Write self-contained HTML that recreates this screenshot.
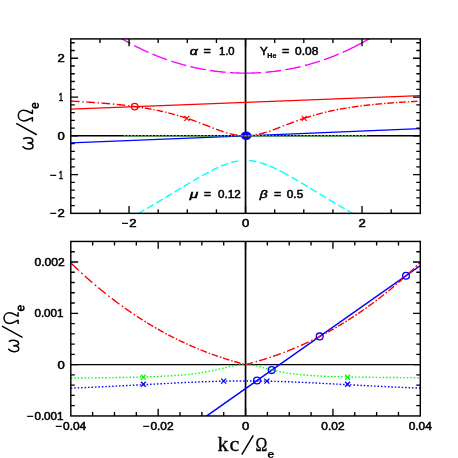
<!DOCTYPE html><html><head><meta charset="utf-8"><title>Dispersion relation</title><style>html,body{margin:0;padding:0;background:#fff}svg{display:block;will-change:transform}</style></head><body><svg width="458" height="458" viewBox="0 0 458 458">
<rect width="458" height="458" fill="#fff"/>
<defs><clipPath id="ct"><rect x="70.80" y="38.90" width="349.50" height="174.45"/></clipPath>
<clipPath id="cb"><rect x="70.80" y="241.45" width="349.50" height="174.50"/></clipPath></defs>
<g clip-path="url(#ct)" fill="none">
<path d="M245.55,73.13 L243.88,73.13 L242.20,73.11 L240.53,73.08 L238.85,73.04 L237.18,72.98 L235.50,72.92 L233.83,72.84 L232.15,72.75 L230.48,72.65 L228.80,72.53 L227.13,72.41 L225.45,72.27 L223.78,72.12 L222.10,71.96 L220.43,71.79 L218.76,71.60 L217.08,71.40 L215.41,71.19 L213.73,70.97 L212.06,70.74 L210.38,70.49 L208.71,70.23 L207.03,69.96 L205.36,69.68 L203.68,69.38 L202.01,69.07 L200.33,68.75 L198.66,68.42 L196.98,68.07 L195.31,67.71 L193.63,67.34 L191.96,66.96 L190.29,66.56 L188.61,66.16 L186.94,65.73 L185.26,65.30 L183.59,64.85 L181.91,64.39 L180.24,63.92 L178.56,63.43 L176.89,62.93 L175.21,62.42 L173.54,61.89 L171.86,61.35 L170.19,60.80 L168.51,60.23 L166.84,59.65 L165.17,59.06 L163.49,58.45 L161.82,57.83 L160.14,57.19 L158.47,56.54 L156.79,55.88 L155.12,55.20 L153.44,54.51 L151.77,53.81 L150.09,53.09 L148.42,52.35 L146.74,51.60 L145.07,50.84 L143.39,50.06 L141.72,49.27 L140.04,48.46 L138.37,47.64 L136.70,46.80 L135.02,45.95 L133.35,45.08 L131.67,44.20 L130.00,43.30 L128.32,42.38 L126.65,41.45 L124.97,40.50 L123.30,39.54 L121.62,38.56 L119.95,37.57 L118.27,36.56 L116.60,35.53 L114.92,34.49 L113.25,33.43 L111.58,32.35" stroke="#ff00ff" stroke-width="1.40" stroke-dasharray="15.60 4.40" stroke-dashoffset="0.00" stroke-linecap="butt"/>
<path d="M245.55,73.13 L247.22,73.13 L248.90,73.11 L250.57,73.08 L252.25,73.04 L253.92,72.98 L255.60,72.92 L257.27,72.84 L258.95,72.75 L260.62,72.65 L262.30,72.53 L263.97,72.41 L265.65,72.27 L267.32,72.12 L269.00,71.96 L270.67,71.79 L272.35,71.60 L274.02,71.40 L275.69,71.19 L277.37,70.97 L279.04,70.74 L280.72,70.49 L282.39,70.23 L284.07,69.96 L285.74,69.68 L287.42,69.38 L289.09,69.07 L290.77,68.75 L292.44,68.42 L294.12,68.07 L295.79,67.71 L297.47,67.34 L299.14,66.96 L300.81,66.56 L302.49,66.16 L304.16,65.73 L305.84,65.30 L307.51,64.85 L309.19,64.39 L310.86,63.92 L312.54,63.43 L314.21,62.93 L315.89,62.42 L317.56,61.89 L319.24,61.35 L320.91,60.80 L322.59,60.23 L324.26,59.65 L325.94,59.06 L327.61,58.45 L329.28,57.83 L330.96,57.19 L332.63,56.54 L334.31,55.88 L335.98,55.20 L337.66,54.51 L339.33,53.81 L341.01,53.09 L342.68,52.35 L344.36,51.60 L346.03,50.84 L347.71,50.06 L349.38,49.27 L351.06,48.46 L352.73,47.64 L354.40,46.80 L356.08,45.95 L357.75,45.08 L359.43,44.20 L361.10,43.30 L362.78,42.38 L364.45,41.45 L366.13,40.50 L367.80,39.54 L369.48,38.56 L371.15,37.57 L372.83,36.56 L374.50,35.53 L376.18,34.49 L377.85,33.43 L379.52,32.35" stroke="#ff00ff" stroke-width="1.40" stroke-dasharray="15.60 4.40 15.60 4.40 15.60 4.40 15.60 4.40 15.60 4.40 80.00 0.00" stroke-dashoffset="0.00" stroke-linecap="butt"/>
<path d="M238.50,160.91 L237.13,161.14 L235.76,161.40 L234.40,161.69 L233.03,162.03 L231.66,162.39 L230.29,162.79 L228.92,163.21 L227.56,163.67 L226.19,164.15 L224.82,164.66 L223.45,165.19 L222.08,165.75 L220.71,166.33 L219.35,166.92 L217.98,167.54 L216.61,168.18 L215.24,168.83 L213.87,169.49 L212.51,170.17 L211.14,170.87 L209.77,171.58 L208.40,172.29 L207.03,173.02 L205.66,173.76 L204.30,174.51 L202.93,175.27 L201.56,176.03 L200.19,176.80 L198.82,177.58 L197.46,178.37 L196.09,179.16 L194.72,179.95 L193.35,180.75 L191.98,181.56 L190.62,182.37 L189.25,183.18 L187.88,183.99 L186.51,184.81 L185.14,185.63 L183.78,186.45 L182.41,187.28 L181.04,188.10 L179.67,188.93 L178.30,189.75 L176.93,190.58 L175.57,191.41 L174.20,192.24 L172.83,193.07 L171.46,193.90 L170.09,194.73 L168.73,195.55 L167.36,196.38 L165.99,197.21 L164.62,198.03 L163.25,198.85 L161.88,199.68 L160.52,200.50 L159.15,201.32 L157.78,202.13 L156.41,202.95 L155.04,203.76 L153.68,204.57 L152.31,205.38 L150.94,206.18 L149.57,206.99 L148.20,207.79 L146.84,208.58 L145.47,209.38 L144.10,210.17 L142.73,210.95 L141.36,211.74 L140.00,212.52 L138.63,213.29 L137.26,214.07 L135.89,214.83 L134.52,215.60 L133.15,216.36 L131.79,217.11 L130.42,217.86 L129.05,218.61" stroke="#00ffff" stroke-width="1.40" stroke-dasharray="7.40 3.27" stroke-dashoffset="0.00" stroke-linecap="butt"/>
<path d="M249.00,160.51 L250.41,160.63 L251.83,160.80 L253.24,161.01 L254.65,161.26 L256.07,161.55 L257.48,161.88 L258.89,162.24 L260.31,162.64 L261.72,163.07 L263.13,163.53 L264.54,164.02 L265.96,164.54 L267.37,165.08 L268.78,165.65 L270.20,166.25 L271.61,166.86 L273.02,167.50 L274.44,168.15 L275.85,168.82 L277.26,169.51 L278.68,170.22 L280.09,170.93 L281.50,171.66 L282.92,172.41 L284.33,173.16 L285.74,173.93 L287.15,174.70 L288.57,175.49 L289.98,176.28 L291.39,177.08 L292.81,177.89 L294.22,178.70 L295.63,179.52 L297.05,180.34 L298.46,181.17 L299.87,182.00 L301.29,182.84 L302.70,183.68 L304.11,184.52 L305.52,185.37 L306.94,186.22 L308.35,187.07 L309.76,187.92 L311.18,188.77 L312.59,189.63 L314.00,190.48 L315.42,191.34 L316.83,192.20 L318.24,193.05 L319.66,193.91 L321.07,194.76 L322.48,195.62 L323.90,196.47 L325.31,197.33 L326.72,198.18 L328.13,199.03 L329.55,199.88 L330.96,200.72 L332.37,201.57 L333.79,202.41 L335.20,203.25 L336.61,204.09 L338.03,204.93 L339.44,205.76 L340.85,206.59 L342.27,207.42 L343.68,208.24 L345.09,209.06 L346.51,209.88 L347.92,210.70 L349.33,211.51 L350.75,212.31 L352.16,213.12 L353.57,213.91 L354.98,214.71 L356.40,215.50 L357.81,216.28 L359.22,217.06 L360.64,217.84 L362.05,218.61" stroke="#00ffff" stroke-width="1.40" stroke-dasharray="7.50 3.35 7.50 3.35 7.50 3.35 10.20 3.35 7.50 3.35 7.50 3.35 7.50 3.35 7.50 3.35 7.50 3.35 7.50 3.35 7.50 3.35 7.50 3.35 7.50 3.35 7.50 3.35 7.50 3.35 7.50 3.35" stroke-dashoffset="0.00" stroke-linecap="butt"/>
<path d="M70.80,135.82 H420.30" stroke="#000" stroke-width="1.4"/>
<path d="M245.55,38.90 V213.35" stroke="#000" stroke-width="1.7"/>
<path d="M70.80,142.97 L245.55,135.82 L420.30,128.66" stroke="#0000ff" stroke-width="1.3"/>
<ellipse cx="246.15" cy="135.82" rx="5.3" ry="4.2" fill="#0000ff"/>
<path d="M70.80,109.08 L245.55,102.38 L420.30,95.68" stroke="#ff0000" stroke-width="1.3"/>
<path d="M71.10,101.18 L72.05,101.23 L72.99,101.27 L73.94,101.32 L74.88,101.37 L75.83,101.42 L76.77,101.47 L77.72,101.52 L78.67,101.57 L79.61,101.63 M82.41,101.78 L83.81,101.87 M86.30,102.02 L87.25,102.08 L88.19,102.14 L89.14,102.20 L90.08,102.26 L91.03,102.32 L91.97,102.38 L92.92,102.45 L93.87,102.51 L94.81,102.58 M97.61,102.78 L99.01,102.88 M101.50,103.07 L102.45,103.15 L103.39,103.22 L104.34,103.30 L105.28,103.38 L106.23,103.46 L107.17,103.54 L108.12,103.62 L109.07,103.70 L110.01,103.79 M112.81,104.04 L114.21,104.18 M116.70,104.42 L117.65,104.52 L118.59,104.62 L119.54,104.71 L120.48,104.82 L121.43,104.92 L122.37,105.02 L123.32,105.13 L124.27,105.23 L125.21,105.34 M128.01,105.68 L129.41,105.85 M131.90,106.17 L132.60,106.26 L133.30,106.35 L134.00,106.45 M133.20,106.34 L134.14,106.46 L135.07,106.59 L136.01,106.72 L136.94,106.86 L137.88,106.99 L138.82,107.13 L139.75,107.27 M141.74,107.57 L143.14,107.79 M144.90,108.08 L145.84,108.23 L146.77,108.39 L147.71,108.55 L148.64,108.71 L149.58,108.88 L150.52,109.05 L151.45,109.22 M153.44,109.59 L154.84,109.87 M156.60,110.22 L157.54,110.41 L158.47,110.60 L159.41,110.80 L160.34,111.00 L161.28,111.21 L162.22,111.42 L163.15,111.63 M165.14,112.09 L166.54,112.42 M168.30,112.86 L169.24,113.09 L170.17,113.33 L171.11,113.57 L172.04,113.82 L172.98,114.07 L173.92,114.32 L174.85,114.58 M176.84,115.14 L178.24,115.55 M180.00,116.07 L180.94,116.36 L181.87,116.65 L182.81,116.94 L183.74,117.24 L184.68,117.54 L185.62,117.84 L186.55,118.15 M188.90,118.94 L189.85,119.27 L190.80,119.60 L191.76,119.93 L192.71,120.27 L193.66,120.61 L194.61,120.96 L195.56,121.30 L196.52,121.66 M198.94,122.56 L200.34,123.10 M202.50,123.92 L203.45,124.29 L204.40,124.66 L205.36,125.03 L206.31,125.41 L207.26,125.78 L208.21,126.15 L209.16,126.52 L210.12,126.89 M212.54,127.84 L213.94,128.38 M216.10,129.19 L217.05,129.55 L218.00,129.90 L218.96,130.24 L219.91,130.58 L220.86,130.92 L221.81,131.24 L222.76,131.56 L223.72,131.88 M226.14,132.64 L227.54,133.05 M229.70,133.64 L230.65,133.88 L231.60,134.11 L232.56,134.33 L233.51,134.53 L234.46,134.72 L235.41,134.90 L236.36,135.06 L237.32,135.20 M239.74,135.51 L241.14,135.64 M243.30,135.77 L244.03,135.80 L244.77,135.81 L245.50,135.82 " stroke="#ff0000" stroke-width="1.40" fill="none"/>
<path d="M245.50,135.82 L246.45,135.81 L247.40,135.79 L248.36,135.74 L249.31,135.69 L250.26,135.61 L251.21,135.52 L252.16,135.42 L253.12,135.30 M255.54,134.92 L256.94,134.66 M259.10,134.20 L260.05,133.98 L261.00,133.74 L261.96,133.49 L262.91,133.23 L263.86,132.96 L264.81,132.68 L265.76,132.39 L266.72,132.09 M269.14,131.29 L270.54,130.81 M272.70,130.04 L273.65,129.69 L274.60,129.34 L275.56,128.98 L276.51,128.62 L277.46,128.26 L278.41,127.89 L279.36,127.52 L280.32,127.16 M282.74,126.21 L284.14,125.66 M286.30,124.82 L287.25,124.45 L288.20,124.08 L289.16,123.71 L290.11,123.34 L291.06,122.98 L292.01,122.62 L292.96,122.26 L293.92,121.90 M296.34,121.01 L297.74,120.50 M299.90,119.73 L300.82,119.41 L301.75,119.09 L302.68,118.78 L303.60,118.46 M304.30,118.23 L305.25,117.92 L306.20,117.61 L307.14,117.30 L308.09,117.00 L309.04,116.71 L309.99,116.41 L310.94,116.12 M312.96,115.52 L314.36,115.11 M316.15,114.61 L317.10,114.35 L318.05,114.09 L318.99,113.84 L319.94,113.59 L320.89,113.34 L321.84,113.10 L322.79,112.86 M324.81,112.36 L326.21,112.03 M328.00,111.62 L328.95,111.40 L329.90,111.19 L330.84,110.98 L331.79,110.78 L332.74,110.58 L333.69,110.38 L334.64,110.19 M336.66,109.79 L338.06,109.52 M339.85,109.18 L340.80,109.01 L341.75,108.84 L342.69,108.67 L343.64,108.51 L344.59,108.34 L345.54,108.18 L346.49,108.03 M348.51,107.70 L349.91,107.48 M351.70,107.21 L352.65,107.07 L353.60,106.94 L354.54,106.80 L355.49,106.67 L356.44,106.54 L357.39,106.41 L358.34,106.28 M360.36,106.02 L361.76,105.84 M363.55,105.62 L364.50,105.51 L365.45,105.39 L366.39,105.28 L367.34,105.18 L368.29,105.07 L369.24,104.96 L370.19,104.86 M372.21,104.65 L373.61,104.50 M375.40,104.32 L376.35,104.23 L377.30,104.14 L378.24,104.05 L379.19,103.96 L380.14,103.87 L381.09,103.79 L382.04,103.70 M384.06,103.53 L385.46,103.41 M387.25,103.26 L388.20,103.19 L389.15,103.11 L390.09,103.04 L391.04,102.96 L391.99,102.89 L392.94,102.82 L393.89,102.75 M395.91,102.60 L397.31,102.51 M399.10,102.38 L400.05,102.32 L401.00,102.26 L401.94,102.20 L402.89,102.14 L403.84,102.08 L404.79,102.02 L405.74,101.96 M407.76,101.84 L409.16,101.76 M410.95,101.66 L411.90,101.60 L412.85,101.55 L413.79,101.50 L414.74,101.45 L415.69,101.40 L416.64,101.35 L417.59,101.30 " stroke="#ff0000" stroke-width="1.40" fill="none"/>
<path d="M123.90,135.82 H366.90" stroke="#00ff00" stroke-width="1.4" stroke-dasharray="1.5 1.95"/>
<circle cx="134.70" cy="106.60" r="3.30" stroke="#ff0000" stroke-width="1.3" fill="none"/>
<path d="M184.40,115.90 l5.00,5.00 M184.40,120.90 l5.00,-5.00" stroke="#ff0000" stroke-width="1.3" fill="none"/>
<path d="M301.70,115.90 l5.00,5.00 M301.70,120.90 l5.00,-5.00" stroke="#ff0000" stroke-width="1.3" fill="none"/>
</g>
<rect x="70.80" y="38.90" width="349.50" height="174.45" fill="none" stroke="#000" stroke-width="1.45"/>
<path d="M99.93,38.90 v4.00 M99.93,213.35 v-4.00 M129.05,38.90 v7.30 M129.05,213.35 v-7.30 M158.18,38.90 v4.00 M158.18,213.35 v-4.00 M187.30,38.90 v4.00 M187.30,213.35 v-4.00 M216.43,38.90 v4.00 M216.43,213.35 v-4.00 M245.55,38.90 v7.30 M245.55,213.35 v-7.30 M274.68,38.90 v4.00 M274.68,213.35 v-4.00 M303.80,38.90 v4.00 M303.80,213.35 v-4.00 M332.93,38.90 v4.00 M332.93,213.35 v-4.00 M362.05,38.90 v7.30 M362.05,213.35 v-7.30 M391.18,38.90 v4.00 M391.18,213.35 v-4.00 " stroke="#000" stroke-width="1.35" fill="none"/>
<path d="M70.80,205.60 h4.00 M420.30,205.60 h-4.00 M70.80,197.84 h4.00 M420.30,197.84 h-4.00 M70.80,190.09 h4.00 M420.30,190.09 h-4.00 M70.80,182.34 h4.00 M420.30,182.34 h-4.00 M70.80,174.58 h7.30 M420.30,174.58 h-7.30 M70.80,166.83 h4.00 M420.30,166.83 h-4.00 M70.80,159.08 h4.00 M420.30,159.08 h-4.00 M70.80,151.32 h4.00 M420.30,151.32 h-4.00 M70.80,143.57 h4.00 M420.30,143.57 h-4.00 M70.80,135.82 h7.30 M420.30,135.82 h-7.30 M70.80,128.06 h4.00 M420.30,128.06 h-4.00 M70.80,120.31 h4.00 M420.30,120.31 h-4.00 M70.80,112.56 h4.00 M420.30,112.56 h-4.00 M70.80,104.80 h4.00 M420.30,104.80 h-4.00 M70.80,97.05 h7.30 M420.30,97.05 h-7.30 M70.80,89.30 h4.00 M420.30,89.30 h-4.00 M70.80,81.54 h4.00 M420.30,81.54 h-4.00 M70.80,73.79 h4.00 M420.30,73.79 h-4.00 M70.80,66.04 h4.00 M420.30,66.04 h-4.00 M70.80,58.28 h7.30 M420.30,58.28 h-7.30 M70.80,50.53 h4.00 M420.30,50.53 h-4.00 M70.80,42.78 h4.00 M420.30,42.78 h-4.00 " stroke="#000" stroke-width="1.35" fill="none"/>
<g clip-path="url(#cb)" fill="none">
<path d="M70.80,364.63 H420.30" stroke="#000" stroke-width="1.4"/>
<path d="M245.55,241.45 V415.95" stroke="#000" stroke-width="1.7"/>
<path d="M200.00,420.65 L425.00,262.34" stroke="#0000ff" stroke-width="1.5"/>
<path d="M70.80,378.04 L72.55,378.03 L74.30,378.01 L76.04,378.00 L77.79,377.99 L79.54,377.97 L81.28,377.96 L83.03,377.94 L84.78,377.93 L86.53,377.91 L88.28,377.90 L90.02,377.88 L91.77,377.87 L93.52,377.85 L95.27,377.83 L97.01,377.81 L98.76,377.79 L100.51,377.77 L102.25,377.75 L104.00,377.73 L105.75,377.71 L107.50,377.68 L109.25,377.66 L110.99,377.64 L112.74,377.61 L114.49,377.58 L116.24,377.56 L117.98,377.53 L119.73,377.50 L121.48,377.47 L123.23,377.44 L124.97,377.41 L126.72,377.37 L128.47,377.34 L130.22,377.30 L131.96,377.26 L133.71,377.22 L135.46,377.18 L137.20,377.14 L138.95,377.09 L140.70,377.04 L142.45,377.00 L144.19,376.94 L145.94,376.89 L147.69,376.84 L149.44,376.78 L151.19,376.72 L152.93,376.65 L154.68,376.59 L156.43,376.52 L158.18,376.44 L159.92,376.37 L161.67,376.28 L163.42,376.20 L165.17,376.11 L166.91,376.02 L168.66,375.92 L170.41,375.82 L172.16,375.71 L173.90,375.59 L175.65,375.47 L177.40,375.35 L179.15,375.21 L180.89,375.07 L182.64,374.92 L184.39,374.77 L186.13,374.60 L187.88,374.42 L189.63,374.24 L191.38,374.04 L193.13,373.84 L194.87,373.62 L196.62,373.39 L198.37,373.15 L200.12,372.89 L201.86,372.62 L203.61,372.34 L205.36,372.04 L207.11,371.73 L208.85,371.40 L210.60,371.06 L212.35,370.70 L214.10,370.33 L215.84,369.94 L217.59,369.54 L219.34,369.14 L221.09,368.72 L222.83,368.30 L224.58,367.88 L226.33,367.46 L228.08,367.04 L229.82,366.64 L231.57,366.26 L233.32,365.90 L235.07,365.57 L236.81,365.27 L238.56,365.03 L240.31,364.83 L242.06,364.68 L243.80,364.59 L245.55,364.56 L247.30,364.60 L249.05,364.72 L250.79,364.91 L252.54,365.16 L254.29,365.48 L256.04,365.85 L257.78,366.26 L259.53,366.69 L261.28,367.15 L263.03,367.63 L264.77,368.10 L266.52,368.58 L268.27,369.04 L270.01,369.50 L271.76,369.94 L273.51,370.37 L275.26,370.77 L277.00,371.16 L278.75,371.53 L280.50,371.87 L282.25,372.20 L284.00,372.51 L285.74,372.80 L287.49,373.08 L289.24,373.33 L290.99,373.58 L292.73,373.80 L294.48,374.02 L296.23,374.21 L297.98,374.40 L299.72,374.58 L301.47,374.74 L303.22,374.90 L304.97,375.04 L306.71,375.18 L308.46,375.31 L310.21,375.43 L311.96,375.55 L313.70,375.65 L315.45,375.76 L317.20,375.85 L318.94,375.94 L320.69,376.03 L322.44,376.11 L324.19,376.19 L325.94,376.26 L327.68,376.33 L329.43,376.40 L331.18,376.46 L332.93,376.52 L334.67,376.57 L336.42,376.63 L338.17,376.68 L339.92,376.73 L341.66,376.77 L343.41,376.82 L345.16,376.86 L346.91,376.90 L348.65,376.94 L350.40,376.98 L352.15,377.01 L353.90,377.04 L355.64,377.08 L357.39,377.11 L359.14,377.14 L360.88,377.17 L362.63,377.19 L364.38,377.22 L366.13,377.25 L367.88,377.27 L369.62,377.29 L371.37,377.32 L373.12,377.34 L374.87,377.36 L376.61,377.38 L378.36,377.40 L380.11,377.42 L381.86,377.43 L383.60,377.45 L385.35,377.47 L387.10,377.48 L388.85,377.50 L390.59,377.51 L392.34,377.53 L394.09,377.54 L395.84,377.56 L397.58,377.57 L399.33,377.58 L401.08,377.60 L402.83,377.61 L404.57,377.62 L406.32,377.63 L408.07,377.64 L409.82,377.65 L411.56,377.66 L413.31,377.67 L415.06,377.68 L416.80,377.69 L418.55,377.70 L420.30,377.71" stroke="#00ff00" stroke-width="1.4" stroke-dasharray="1.5 1.95"/>
<path d="M70.80,388.12 L72.55,388.05 L74.30,387.98 L76.04,387.91 L77.79,387.84 L79.54,387.77 L81.28,387.70 L83.03,387.63 L84.78,387.55 L86.53,387.48 L88.28,387.40 L90.02,387.32 L91.77,387.25 L93.52,387.17 L95.27,387.09 L97.01,387.01 L98.76,386.93 L100.51,386.85 L102.25,386.77 L104.00,386.69 L105.75,386.60 L107.50,386.52 L109.25,386.44 L110.99,386.35 L112.74,386.27 L114.49,386.18 L116.24,386.09 L117.98,386.01 L119.73,385.92 L121.48,385.83 L123.23,385.74 L124.97,385.65 L126.72,385.56 L128.47,385.47 L130.22,385.38 L131.96,385.29 L133.71,385.20 L135.46,385.10 L137.20,385.01 L138.95,384.92 L140.70,384.83 L142.45,384.73 L144.19,384.64 L145.94,384.55 L147.69,384.45 L149.44,384.36 L151.19,384.27 L152.93,384.17 L154.68,384.08 L156.43,383.99 L158.18,383.90 L159.92,383.80 L161.67,383.71 L163.42,383.62 L165.17,383.53 L166.91,383.44 L168.66,383.35 L170.41,383.26 L172.16,383.17 L173.90,383.08 L175.65,382.99 L177.40,382.90 L179.15,382.82 L180.89,382.73 L182.64,382.65 L184.39,382.57 L186.13,382.49 L187.88,382.41 L189.63,382.33 L191.38,382.25 L193.13,382.17 L194.87,382.10 L196.62,382.03 L198.37,381.96 L200.12,381.89 L201.86,381.82 L203.61,381.76 L205.36,381.69 L207.11,381.63 L208.85,381.58 L210.60,381.52 L212.35,381.46 L214.10,381.41 L215.84,381.36 L217.59,381.32 L219.34,381.27 L221.09,381.23 L222.83,381.19 L224.58,381.16 L226.33,381.12 L228.08,381.09 L229.82,381.06 L231.57,381.04 L233.32,381.02 L235.07,381.00 L236.81,380.98 L238.56,380.97 L240.31,380.96 L242.06,380.95 L243.80,380.94 L245.55,380.94 L247.30,380.94 L249.05,380.95 L250.79,380.96 L252.54,380.97 L254.29,380.98 L256.04,381.00 L257.78,381.02 L259.53,381.04 L261.28,381.06 L263.03,381.09 L264.77,381.12 L266.52,381.16 L268.27,381.19 L270.01,381.23 L271.76,381.27 L273.51,381.32 L275.26,381.36 L277.00,381.41 L278.75,381.46 L280.50,381.52 L282.25,381.58 L284.00,381.63 L285.74,381.69 L287.49,381.76 L289.24,381.82 L290.99,381.89 L292.73,381.96 L294.48,382.03 L296.23,382.10 L297.98,382.17 L299.72,382.25 L301.47,382.33 L303.22,382.41 L304.97,382.49 L306.71,382.57 L308.46,382.65 L310.21,382.73 L311.96,382.82 L313.70,382.90 L315.45,382.99 L317.20,383.08 L318.94,383.17 L320.69,383.26 L322.44,383.35 L324.19,383.44 L325.94,383.53 L327.68,383.62 L329.43,383.71 L331.18,383.80 L332.93,383.90 L334.67,383.99 L336.42,384.08 L338.17,384.17 L339.92,384.27 L341.66,384.36 L343.41,384.45 L345.16,384.55 L346.91,384.64 L348.65,384.73 L350.40,384.83 L352.15,384.92 L353.90,385.01 L355.64,385.10 L357.39,385.20 L359.14,385.29 L360.88,385.38 L362.63,385.47 L364.38,385.56 L366.13,385.65 L367.88,385.74 L369.62,385.83 L371.37,385.92 L373.12,386.01 L374.87,386.09 L376.61,386.18 L378.36,386.27 L380.11,386.35 L381.86,386.44 L383.60,386.52 L385.35,386.60 L387.10,386.69 L388.85,386.77 L390.59,386.85 L392.34,386.93 L394.09,387.01 L395.84,387.09 L397.58,387.17 L399.33,387.25 L401.08,387.32 L402.83,387.40 L404.57,387.48 L406.32,387.55 L408.07,387.63 L409.82,387.70 L411.56,387.77 L413.31,387.84 L415.06,387.91 L416.80,387.98 L418.55,388.05 L420.30,388.12" stroke="#0000ff" stroke-width="1.4" stroke-dasharray="1.5 1.95"/>
<path d="M71.30,263.37 L72.25,264.28 L73.19,265.19 L74.13,266.09 L75.08,266.99 L76.03,267.88 L76.97,268.77 L77.91,269.65 L78.86,270.53 M81.27,272.75 L82.67,274.03 M84.80,275.96 L85.75,276.80 L86.69,277.65 L87.63,278.49 L88.58,279.32 L89.53,280.15 L90.47,280.97 L91.41,281.79 L92.36,282.61 M94.77,284.67 L96.17,285.85 M98.30,287.64 L99.25,288.43 L100.19,289.21 L101.13,289.98 L102.08,290.76 L103.03,291.52 L103.97,292.29 L104.91,293.05 L105.86,293.80 M108.27,295.71 L109.67,296.80 M111.80,298.46 L112.75,299.18 L113.69,299.90 L114.63,300.62 L115.58,301.33 L116.53,302.04 L117.47,302.74 L118.41,303.44 L119.36,304.14 M121.77,305.89 L123.17,306.90 M124.80,308.07 L125.77,308.75 L126.74,309.44 L127.70,310.11 L128.67,310.78 L129.64,311.45 L130.61,312.12 L131.58,312.78 M133.66,314.19 L135.06,315.12 M136.90,316.34 L137.88,316.97 L138.85,317.61 L139.83,318.24 L140.80,318.87 L141.78,319.49 L142.75,320.11 M144.46,321.17 L145.86,322.04 M147.35,322.96 L148.33,323.56 L149.30,324.15 L150.28,324.74 L151.25,325.32 L152.23,325.90 L153.20,326.47 M154.91,327.47 L156.31,328.28 M157.80,329.13 L158.78,329.68 L159.75,330.23 L160.73,330.78 L161.70,331.32 L162.68,331.86 L163.65,332.39 M165.36,333.31 L166.76,334.06 M168.25,334.85 L169.23,335.36 L170.20,335.87 L171.18,336.37 L172.15,336.87 L173.13,337.37 L174.10,337.86 M175.81,338.72 L177.21,339.41 M178.70,340.14 L179.68,340.61 L180.65,341.08 L181.63,341.54 L182.60,342.00 L183.58,342.46 L184.55,342.91 M186.26,343.70 L187.66,344.33 M189.15,345.00 L189.18,345.01 L189.20,345.02 M189.40,345.11 L190.30,345.51 L191.19,345.90 L192.09,346.30 L192.98,346.68 L193.88,347.07 L194.78,347.45 L195.67,347.83 M197.55,348.62 L198.95,349.19 M200.60,349.86 L201.50,350.22 L202.39,350.58 L203.29,350.94 L204.18,351.29 L205.08,351.64 L205.98,351.98 L206.87,352.33 M208.75,353.04 L210.15,353.56 M211.80,354.16 L212.70,354.49 L213.59,354.81 L214.49,355.13 L215.38,355.45 L216.28,355.76 L217.18,356.07 L218.07,356.38 M219.95,357.02 L221.35,357.49 M223.00,358.03 L223.90,358.32 L224.79,358.61 L225.69,358.90 L226.58,359.18 L227.48,359.46 L228.38,359.74 L229.27,360.01 M231.15,360.58 L232.55,360.99 M234.20,361.48 L235.10,361.74 L235.99,361.99 L236.89,362.24 L237.78,362.49 L238.68,362.74 L239.58,362.99 L240.47,363.23 M242.35,363.73 L243.75,364.10 M245.40,364.52 L245.45,364.53 L245.50,364.55 " stroke="#ff0000" stroke-width="1.40" fill="none"/>
<path d="M245.30,364.50 L246.27,364.38 L247.25,364.12 L248.22,363.87 L249.19,363.61 L250.17,363.35 L251.14,363.09 L252.11,362.83 L253.08,362.56 M255.58,361.86 L256.98,361.45 M259.20,360.80 L260.17,360.51 L261.15,360.22 L262.12,359.92 L263.09,359.62 L264.06,359.31 L265.04,359.01 L266.01,358.70 L266.98,358.39 M269.48,357.57 L270.88,357.10 M273.10,356.35 L274.07,356.01 L275.05,355.67 L276.02,355.33 L276.99,354.98 L277.97,354.63 L278.94,354.28 L279.91,353.93 L280.88,353.57 M283.38,352.63 L284.78,352.10 M287.00,351.23 L287.97,350.85 L288.95,350.46 L289.92,350.07 L290.89,349.68 L291.87,349.28 L292.84,348.88 L293.81,348.48 L294.78,348.07 M297.28,347.01 L298.68,346.40 M300.90,345.43 L301.87,344.99 L302.85,344.56 L303.82,344.12 L304.79,343.67 L305.77,343.22 L306.74,342.77 L307.71,342.32 L308.68,341.86 M311.18,340.67 L312.58,339.99 M314.80,338.90 L315.60,338.50 L316.40,338.10 L317.20,337.69 L318.00,337.29 M318.05,337.26 L318.99,336.78 L319.93,336.30 L320.86,335.81 L321.80,335.32 L322.74,334.83 L323.68,334.33 M325.29,333.47 L326.69,332.71 M328.10,331.94 L329.04,331.42 L329.98,330.90 L330.91,330.38 L331.85,329.85 L332.79,329.32 L333.73,328.78 M335.34,327.86 L336.74,327.04 M338.15,326.21 L339.09,325.65 L340.03,325.09 L340.96,324.53 L341.90,323.96 L342.84,323.39 L343.78,322.82 M345.39,321.82 L346.79,320.95 M348.20,320.06 L349.14,319.46 L350.08,318.86 L351.01,318.26 L351.95,317.65 L352.89,317.04 L353.83,316.42 M355.44,315.36 L356.84,314.42 M358.25,313.47 L359.19,312.83 L360.13,312.19 L361.06,311.55 L362.00,310.90 L362.94,310.25 L363.88,309.59 M365.49,308.45 L366.89,307.45 M368.30,306.44 L369.24,305.76 L370.18,305.08 L371.11,304.39 L372.05,303.70 L372.99,303.00 L373.93,302.30 M375.54,301.09 L376.94,300.03 M378.35,298.95 L379.29,298.23 L380.23,297.50 L381.16,296.77 L382.10,296.03 L383.04,295.29 L383.98,294.55 M385.59,293.26 L386.99,292.13 M388.40,290.99 L389.34,290.22 L390.28,289.45 L391.21,288.67 L392.15,287.89 L393.09,287.11 L394.03,286.32 M395.64,284.96 L397.04,283.76 M398.45,282.55 L399.39,281.74 L400.33,280.92 L401.26,280.10 L402.20,279.27 L403.14,278.44 L404.08,277.61 M405.69,276.16 L407.09,274.90 M408.50,273.61 L409.44,272.75 L410.38,271.89 L411.31,271.02 L412.25,270.15 L413.19,269.27 L414.13,268.39 M415.74,266.87 L417.14,265.53 M418.55,264.18 L419.43,263.33 L420.30,262.48 " stroke="#ff0000" stroke-width="1.40" fill="none"/>
<circle cx="257.00" cy="380.50" r="3.40" stroke="#0000ff" stroke-width="1.3" fill="none"/>
<circle cx="271.70" cy="370.10" r="3.40" stroke="#0000ff" stroke-width="1.3" fill="none"/>
<circle cx="319.70" cy="336.40" r="3.40" stroke="#0000ff" stroke-width="1.3" fill="none"/>
<circle cx="406.00" cy="275.70" r="3.40" stroke="#0000ff" stroke-width="1.3" fill="none"/>
<path d="M140.80,374.80 l5.00,5.00 M140.80,379.80 l5.00,-5.00" stroke="#00ff00" stroke-width="1.3" fill="none"/>
<path d="M345.10,374.80 l5.00,5.00 M345.10,379.80 l5.00,-5.00" stroke="#00ff00" stroke-width="1.3" fill="none"/>
<path d="M140.80,381.80 l5.00,5.00 M140.80,386.80 l5.00,-5.00" stroke="#0000ff" stroke-width="1.3" fill="none"/>
<path d="M345.10,381.80 l5.00,5.00 M345.10,386.80 l5.00,-5.00" stroke="#0000ff" stroke-width="1.3" fill="none"/>
<path d="M221.20,378.60 l5.00,5.00 M221.20,383.60 l5.00,-5.00" stroke="#0000ff" stroke-width="1.3" fill="none"/>
<path d="M264.40,378.60 l5.00,5.00 M264.40,383.60 l5.00,-5.00" stroke="#0000ff" stroke-width="1.3" fill="none"/>
</g>
<rect x="70.80" y="241.45" width="349.50" height="174.50" fill="none" stroke="#000" stroke-width="1.45"/>
<path d="M92.64,241.45 v4.00 M92.64,415.95 v-4.00 M114.49,241.45 v4.00 M114.49,415.95 v-4.00 M136.33,241.45 v4.00 M136.33,415.95 v-4.00 M158.18,241.45 v7.30 M158.18,415.95 v-7.30 M180.02,241.45 v4.00 M180.02,415.95 v-4.00 M201.86,241.45 v4.00 M201.86,415.95 v-4.00 M223.71,241.45 v4.00 M223.71,415.95 v-4.00 M245.55,241.45 v7.30 M245.55,415.95 v-7.30 M267.39,241.45 v4.00 M267.39,415.95 v-4.00 M289.24,241.45 v4.00 M289.24,415.95 v-4.00 M311.08,241.45 v4.00 M311.08,415.95 v-4.00 M332.93,241.45 v7.30 M332.93,415.95 v-7.30 M354.77,241.45 v4.00 M354.77,415.95 v-4.00 M376.61,241.45 v4.00 M376.61,415.95 v-4.00 M398.46,241.45 v4.00 M398.46,415.95 v-4.00 " stroke="#000" stroke-width="1.35" fill="none"/>
<path d="M70.80,405.69 h4.00 M420.30,405.69 h-4.00 M70.80,395.42 h4.00 M420.30,395.42 h-4.00 M70.80,385.16 h4.00 M420.30,385.16 h-4.00 M70.80,374.89 h4.00 M420.30,374.89 h-4.00 M70.80,364.63 h7.30 M420.30,364.63 h-7.30 M70.80,354.36 h4.00 M420.30,354.36 h-4.00 M70.80,344.10 h4.00 M420.30,344.10 h-4.00 M70.80,333.83 h4.00 M420.30,333.83 h-4.00 M70.80,323.57 h4.00 M420.30,323.57 h-4.00 M70.80,313.30 h7.30 M420.30,313.30 h-7.30 M70.80,303.04 h4.00 M420.30,303.04 h-4.00 M70.80,292.77 h4.00 M420.30,292.77 h-4.00 M70.80,282.51 h4.00 M420.30,282.51 h-4.00 M70.80,272.24 h4.00 M420.30,272.24 h-4.00 M70.80,261.98 h7.30 M420.30,261.98 h-7.30 M70.80,251.71 h4.00 M420.30,251.71 h-4.00 " stroke="#000" stroke-width="1.35" fill="none"/>
<g font-family="Liberation Sans, sans-serif" font-weight="normal" font-size="10.6" fill="#000" stroke="#000" stroke-width="0.5">
<text x="121.55" y="226.90" textLength="6.50" lengthAdjust="spacingAndGlyphs">−</text>
<text x="129.25" y="226.90" textLength="7.30" lengthAdjust="spacingAndGlyphs">2</text>
<text x="241.90" y="226.90" textLength="7.30" lengthAdjust="spacingAndGlyphs">0</text>
<text x="358.40" y="226.90" textLength="7.30" lengthAdjust="spacingAndGlyphs">2</text>
<text x="57.50" y="62.38" textLength="7.30" lengthAdjust="spacingAndGlyphs">2</text>
<text x="58.80" y="101.15" textLength="4.40" lengthAdjust="spacingAndGlyphs">1</text>
<text x="57.50" y="139.92" textLength="7.30" lengthAdjust="spacingAndGlyphs">0</text>
<text x="49.80" y="178.68" textLength="6.50" lengthAdjust="spacingAndGlyphs">−</text>
<text x="58.80" y="178.68" textLength="4.40" lengthAdjust="spacingAndGlyphs">1</text>
<text x="49.80" y="217.45" textLength="6.50" lengthAdjust="spacingAndGlyphs">−</text>
<text x="57.50" y="217.45" textLength="7.30" lengthAdjust="spacingAndGlyphs">2</text>
<text x="55.35" y="429.50" textLength="6.50" lengthAdjust="spacingAndGlyphs">−</text>
<text x="63.05" y="429.50" textLength="23.20" lengthAdjust="spacingAndGlyphs">0.04</text>
<text x="142.72" y="429.50" textLength="6.50" lengthAdjust="spacingAndGlyphs">−</text>
<text x="150.42" y="429.50" textLength="23.20" lengthAdjust="spacingAndGlyphs">0.02</text>
<text x="241.90" y="429.50" textLength="7.30" lengthAdjust="spacingAndGlyphs">0</text>
<text x="321.33" y="429.50" textLength="23.20" lengthAdjust="spacingAndGlyphs">0.02</text>
<text x="408.70" y="429.50" textLength="23.20" lengthAdjust="spacingAndGlyphs">0.04</text>
<text x="34.40" y="265.88" textLength="30.40" lengthAdjust="spacingAndGlyphs">0.002</text>
<text x="34.40" y="317.20" textLength="29.20" lengthAdjust="spacingAndGlyphs">0.001</text>
<text x="57.50" y="368.53" textLength="7.30" lengthAdjust="spacingAndGlyphs">0</text>
<text x="26.70" y="419.85" textLength="6.50" lengthAdjust="spacingAndGlyphs">−</text>
<text x="34.40" y="419.85" textLength="29.20" lengthAdjust="spacingAndGlyphs">0.001</text>
<text x="189.80" y="54.60" textLength="8.00" lengthAdjust="spacingAndGlyphs" font-style="italic" font-size="11">α</text>
<text x="203.60" y="54.60" textLength="7.30" lengthAdjust="spacingAndGlyphs">=</text>
<text x="218.90" y="54.60" textLength="15.60" lengthAdjust="spacingAndGlyphs">1.0</text>
<text x="259.90" y="54.60" textLength="7.70" lengthAdjust="spacingAndGlyphs">Y</text>
<text x="267.30" y="57.50" textLength="9.10" lengthAdjust="spacingAndGlyphs" font-size="6.4" font-weight="bold" stroke-width="0.2">He</text>
<text x="282.10" y="54.60" textLength="7.20" lengthAdjust="spacingAndGlyphs">=</text>
<text x="295.10" y="54.60" textLength="23.30" lengthAdjust="spacingAndGlyphs">0.08</text>
<text x="189.70" y="198.20" textLength="8.50" lengthAdjust="spacingAndGlyphs" font-style="italic" font-size="11">μ</text>
<text x="203.90" y="198.20" textLength="7.00" lengthAdjust="spacingAndGlyphs">=</text>
<text x="218.10" y="198.20" textLength="22.70" lengthAdjust="spacingAndGlyphs">0.12</text>
<text x="259.80" y="198.20" textLength="7.90" lengthAdjust="spacingAndGlyphs" font-style="italic" font-size="11">β</text>
<text x="274.00" y="198.20" textLength="7.10" lengthAdjust="spacingAndGlyphs">=</text>
<text x="286.80" y="198.20" textLength="16.40" lengthAdjust="spacingAndGlyphs">0.5</text>
</g>
<g transform="translate(0.00,0.00)" fill="none" stroke="#000" stroke-width="1.5" stroke-linecap="round" stroke-linejoin="round">
<title>ω/Ωe</title>
<path d="M23.71,138.64 C26.52,136.92 32.64,137.41 32.89,140.84 C32.89,142.68 30.20,143.04 27.87,143.04 M27.87,143.04 C30.81,143.04 33.26,143.90 33.01,146.35 C32.77,149.65 25.91,150.14 22.97,146.71 "/><path d="M16.73,123.70 L36.32,134.47 "/><path d="M32.40,110.24 L32.40,113.54 C29.58,112.44 27.14,110.24 23.71,110.24 C20.40,110.24 18.32,112.69 18.32,115.50 C18.32,118.56 20.40,120.89 23.71,120.89 C27.14,120.89 29.58,118.81 32.40,117.58 L32.40,121.01 "/>
<path transform="translate(38.6,108.6) rotate(-90)" stroke-width="1.4" d="M0.7,-3.4 H5.4 C5.5,-5.3 4.5,-6.1 3.0,-6.1 C1.4,-6.1 0.6,-4.8 0.6,-3.2 C0.6,-1.4 1.5,-0.3 3.1,-0.3 C4.0,-0.3 4.6,-0.6 5.0,-1.1"/>
</g>
<g transform="translate(-14.30,202.60)" fill="none" stroke="#000" stroke-width="1.5" stroke-linecap="round" stroke-linejoin="round">
<title>ω/Ωe</title>
<path d="M23.71,138.64 C26.52,136.92 32.64,137.41 32.89,140.84 C32.89,142.68 30.20,143.04 27.87,143.04 M27.87,143.04 C30.81,143.04 33.26,143.90 33.01,146.35 C32.77,149.65 25.91,150.14 22.97,146.71 "/><path d="M16.73,123.70 L36.32,134.47 "/><path d="M32.40,110.24 L32.40,113.54 C29.58,112.44 27.14,110.24 23.71,110.24 C20.40,110.24 18.32,112.69 18.32,115.50 C18.32,118.56 20.40,120.89 23.71,120.89 C27.14,120.89 29.58,118.81 32.40,117.58 L32.40,121.01 "/>
<path transform="translate(38.6,108.6) rotate(-90)" stroke-width="1.4" d="M0.7,-3.4 H5.4 C5.5,-5.3 4.5,-6.1 3.0,-6.1 C1.4,-6.1 0.6,-4.8 0.6,-3.2 C0.6,-1.4 1.5,-0.3 3.1,-0.3 C4.0,-0.3 4.6,-0.6 5.0,-1.1"/>
</g>
<text x="217.6" y="450.6" font-family="Liberation Serif, serif" fill="#000" stroke="#000" stroke-width="0.3" font-size="20" textLength="10.9" lengthAdjust="spacingAndGlyphs">k</text>
<text x="229.5" y="450.6" font-family="Liberation Serif, serif" fill="#000" stroke="#000" stroke-width="0.3" font-size="20" textLength="9.9" lengthAdjust="spacingAndGlyphs">c</text>
<path d="M241.8,454.6 L253.3,435.3" stroke="#000" stroke-width="1.5" fill="none"/>
<text x="255.4" y="450.6" font-family="Liberation Serif, serif" fill="#000" stroke="#000" stroke-width="0.3" font-size="18.5" textLength="11.8" lengthAdjust="spacingAndGlyphs">Ω</text>
<text x="267.3" y="457.5" font-family="Liberation Sans, sans-serif" font-weight="bold" font-size="11.7" fill="#000" textLength="7.2" lengthAdjust="spacingAndGlyphs">e</text>
</svg></body></html>
